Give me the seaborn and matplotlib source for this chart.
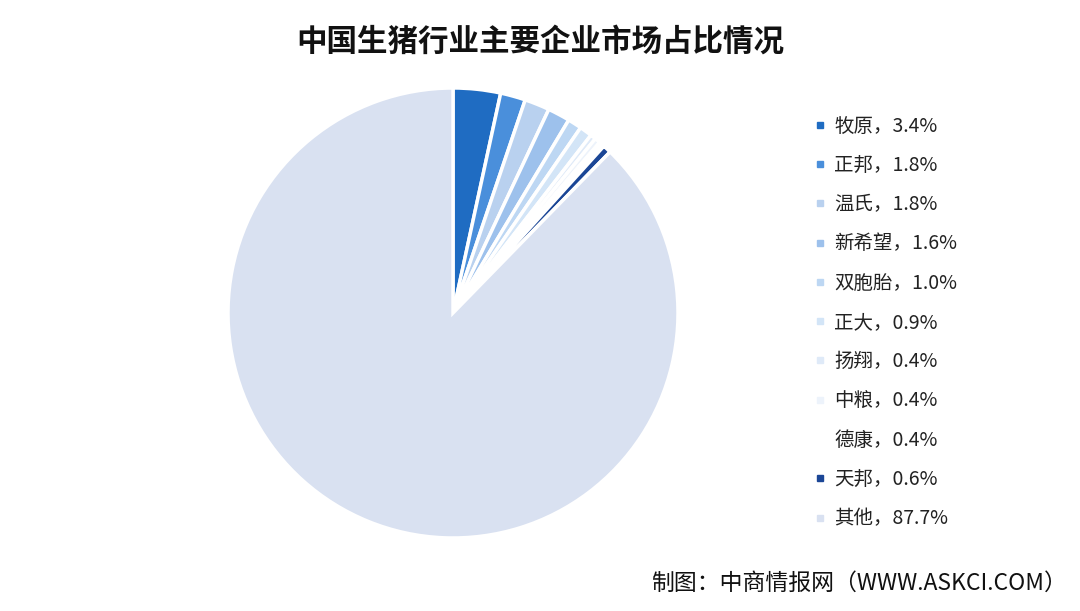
import matplotlib
matplotlib.use("Agg")
import matplotlib.pyplot as plt
import seaborn as sns
from matplotlib.lines import Line2D

companies = ["牧原", "正邦", "温氏", "新希望", "双胞胎", "正大", "扬翔", "中粮", "德康", "天邦", "其他"]
shares = [3.4, 1.8, 1.8, 1.6, 1.0, 0.9, 0.4, 0.4, 0.4, 0.6, 87.7]
colors = ["#1f6cc2", "#4a8fdb", "#b9d1ef", "#9dc1ec", "#bdd7f3", "#d3e5f7",
          "#dfeaf8", "#edf3fb", "#ffffff", "#1b4696", "#d9e1f1"]
title = "中国生猪行业主要企业市场占比情况"
source = "制图：中商情报网（WWW.ASKCI.COM）"

sns.set_theme(style="white")
plt.rcParams['font.family'] = ['Noto Sans CJK SC', 'DejaVu Sans']

fig = plt.figure(figsize=(10.8, 6.11), dpi=100)
fig.patch.set_facecolor("white")
ax = fig.add_axes([0.2111, 0.1195, 0.4167, 0.7365])
ax.pie(shares, colors=colors, startangle=90, counterclock=False,
       wedgeprops=dict(edgecolor="white", linewidth=2.5))
ax.set_xlim(-1.0, 1.0)
ax.set_ylim(-1.0, 1.0)
ax.set_aspect("equal")
ax.axis("off")

fig.text(0.5, 0.932, title, ha="center", va="center", fontsize=22, fontweight="bold", color="#111111")

handles = [Line2D([0], [0], marker="s", linestyle="none", markersize=5,
                  markerfacecolor=c, markeredgecolor=c) for c in colors]
labels = [f"{n}，{v}%" for n, v in zip(companies, shares)]
leg = fig.legend(handles, labels, loc="upper left", bbox_to_anchor=(0.7465, 0.8235),
                 frameon=False, fontsize=14, handlelength=0.6, handletextpad=0.45,
                 labelspacing=0.94, borderaxespad=0)
for t in leg.get_texts():
    t.set_color("#222222")

fig.text(0.988, 0.045, source, ha="right", va="center", fontsize=16.5, color="#111111")

fig.savefig("out.png", dpi=100, facecolor="white")
